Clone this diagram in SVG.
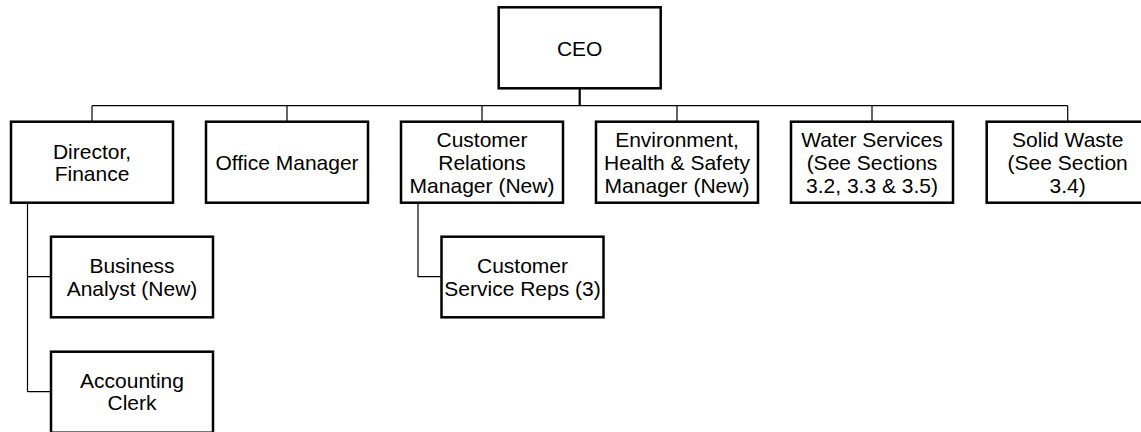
<svg xmlns="http://www.w3.org/2000/svg" width="1141" height="432" viewBox="0 0 1141 432">
  <style>
    .box { fill: #ffffff; stroke: #000000; stroke-width: 2.5; }
    .lbl { font-family: "Liberation Sans", Arial, sans-serif; font-size: 21px; fill: #000000; text-anchor: middle; }
    .wire { fill: none; stroke: #000000; stroke-width: 1.2; }
    .trunk { fill: none; stroke: #000000; stroke-width: 2.2; }
  </style>
  <rect width="1141" height="432" fill="#ffffff"/>

  <!-- reporting lines -->
  <g id="connectors">
    <path class="trunk" d="M579.7 88.3 V105.7"/>
    <path class="wire" d="M92 105.7 H1067.7"/>
    <path class="wire" d="M92 105.7 V121.7 M287 105.7 V121.7 M482 105.7 V121.7 M677 105.7 V121.7 M872 105.7 V121.7 M1067.7 105.7 V121.7"/>
    <path class="wire" d="M27.5 202.7 V391.7 M27.5 276.7 H51 M27.5 391.7 H51"/>
    <path class="wire" d="M418 202.7 V276.7 H441.5"/>
  </g>

  <g id="ceo">
    <rect class="box" x="498.7" y="7.3" width="162" height="81"/>
    <text class="lbl" x="579.7" y="55.5">CEO</text>
  </g>

  <g id="director-finance">
    <rect class="box" x="11" y="121.7" width="162" height="81"/>
    <text class="lbl" x="92" y="158.5">Director,</text>
    <text class="lbl" x="92" y="181.2">Finance</text>
  </g>

  <g id="office-manager">
    <rect class="box" x="206" y="121.7" width="162" height="81"/>
    <text class="lbl" x="287" y="169.8">Office Manager</text>
  </g>

  <g id="customer-relations">
    <rect class="box" x="401" y="121.7" width="162" height="81"/>
    <text class="lbl" x="482" y="147.3">Customer</text>
    <text class="lbl" x="482" y="170">Relations</text>
    <text class="lbl" x="482" y="192.7" textLength="145" lengthAdjust="spacingAndGlyphs">Manager (New)</text>
  </g>

  <g id="ehs-manager">
    <rect class="box" x="596" y="121.7" width="162" height="81"/>
    <text class="lbl" x="677" y="147.3">Environment,</text>
    <text class="lbl" x="677" y="170">Health &amp; Safety</text>
    <text class="lbl" x="677" y="192.7" textLength="145" lengthAdjust="spacingAndGlyphs">Manager (New)</text>
  </g>

  <g id="water-services">
    <rect class="box" x="791" y="121.7" width="162" height="81"/>
    <text class="lbl" x="872" y="147.3">Water Services</text>
    <text class="lbl" x="872" y="170">(See Sections</text>
    <text class="lbl" x="872" y="192.7">3.2, 3.3 &amp; 3.5)</text>
  </g>

  <g id="solid-waste">
    <rect class="box" x="986.7" y="121.7" width="162" height="81"/>
    <text class="lbl" x="1067.7" y="147.3">Solid Waste</text>
    <text class="lbl" x="1067.7" y="170">(See Section</text>
    <text class="lbl" x="1067.7" y="192.7">3.4)</text>
  </g>

  <g id="business-analyst">
    <rect class="box" x="51" y="236.7" width="162" height="80.6"/>
    <text class="lbl" x="132" y="273">Business</text>
    <text class="lbl" x="132" y="295.7">Analyst (New)</text>
  </g>

  <g id="accounting-clerk">
    <rect class="box" x="51" y="351.7" width="162" height="81"/>
    <text class="lbl" x="132" y="387.5">Accounting</text>
    <text class="lbl" x="132" y="410.2">Clerk</text>
  </g>

  <g id="customer-service-reps">
    <rect class="box" x="441.5" y="236.7" width="162" height="80.6"/>
    <text class="lbl" x="522.5" y="273">Customer</text>
    <text class="lbl" x="522.5" y="295.7">Service Reps (3)</text>
  </g>
</svg>
